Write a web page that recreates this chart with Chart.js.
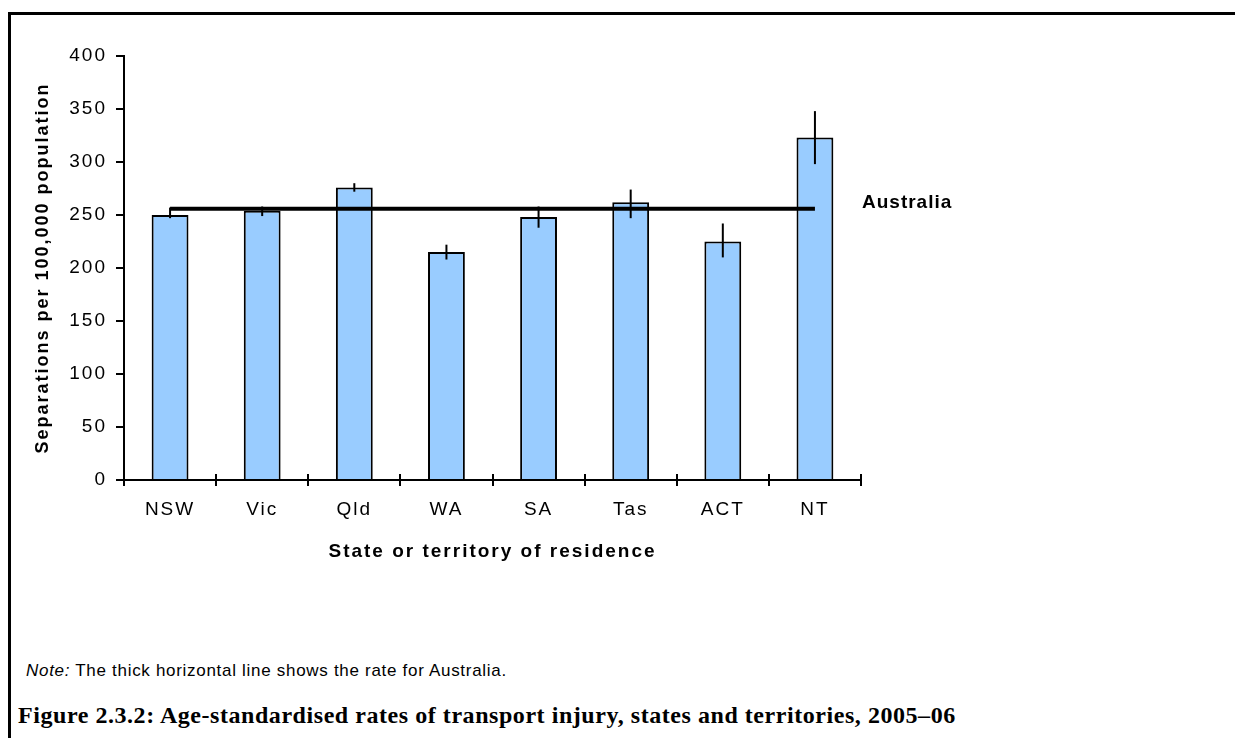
<html lang="en">
<head>
    <meta charset="UTF-8">
    <title>Transport injury rates</title>
    <script src="https://cdn.jsdelivr.net/npm/chart.js"></script>
    <style>
        body { margin: 0; background: #fff; width: 1235px; height: 738px; overflow: hidden; position: relative; }
        .frame { position: absolute; left: 8px; top: 12px; width: 1400px; height: 900px;
                 border-left: 3px solid #000; border-top: 3px solid #000; }
        #chart { position: absolute; left: 0; top: 0; }
        .note { position: absolute; left: 26px; top: 661px; font: 17px "Liberation Sans", Arial, sans-serif;
                letter-spacing: 0.7px; color: #000; }
        .caption { position: absolute; left: 18px; top: 702px; font: bold 24px "Liberation Serif", serif;
                   letter-spacing: 0.55px; color: #000; white-space: nowrap; }
    </style>
</head>
<body>
    <div class="frame"></div>
    <canvas id="chart" width="1235" height="600"></canvas>
    <div class="note"><i>Note:</i> The thick horizontal line shows the rate for Australia.</div>
    <div class="caption">Figure 2.3.2: Age-standardised rates of transport injury, states and territories, 2005–06</div>

    <script>
        // data
        const states = ['NSW', 'Vic', 'Qld', 'WA', 'SA', 'Tas', 'ACT', 'NT'];
        const rates = [250, 254, 276, 215, 248, 262, 225, 323];
        const lower = [247, 249, 272, 208, 238, 247, 210, 298];
        const upper = [257, 258, 280, 222, 258, 274, 242, 348];
        const australiaRate = 256;
        const yTicks = [0, 50, 100, 150, 200, 250, 300, 350, 400];

        const sans = '"Liberation Sans", Arial, sans-serif';

        // the source pdf text is loosely spaced, so space out the axis text a bit
        const spacing = {
            id: 'spacing',
            beforeDraw(chart) { chart.ctx.letterSpacing = '2px'; },
            beforeDatasetsDraw(chart) { chart.ctx.letterSpacing = '0px'; }
        };

        // vertical lines for the confidence intervals, plus the small tick stubs above the x axis
        const errorBars = {
            id: 'errorBars',
            afterDatasetsDraw(chart) {
                const ctx = chart.ctx;
                const x = chart.scales.x;
                const y = chart.scales.y;
                const bars = chart.getDatasetMeta(0).data;
                ctx.save();
                ctx.strokeStyle = '#000';
                ctx.lineWidth = 2;
                bars.forEach((bar, i) => {
                    ctx.beginPath();
                    ctx.moveTo(bar.x, y.getPixelForValue(lower[i]));
                    ctx.lineTo(bar.x, y.getPixelForValue(upper[i]));
                    ctx.stroke();
                });
                for (let i = 0; i <= states.length; i++) {
                    const px = Math.round(x.getPixelForValue(i - 0.5));
                    ctx.beginPath();
                    ctx.moveTo(px, x.top);
                    ctx.lineTo(px, x.top - 6);
                    ctx.stroke();
                }
                ctx.restore();
            }
        };

        // "Australia" label next to the line
        const lineLabel = {
            id: 'lineLabel',
            afterDatasetsDraw(chart) {
                const ctx = chart.ctx;
                const yPix = chart.scales.y.getPixelForValue(australiaRate);
                ctx.save();
                ctx.font = 'bold 19px ' + sans;
                ctx.letterSpacing = '1px';
                ctx.fillStyle = '#000';
                ctx.textBaseline = 'middle';
                ctx.fillText('Australia', chart.chartArea.right + 1, yPix - 6);
                ctx.restore();
            }
        };

        new Chart(document.getElementById('chart'), {
            type: 'bar',
            data: {
                labels: states,
                datasets: [{
                    label: 'Rate',
                    data: rates,
                    backgroundColor: '#99CCFF',
                    borderColor: '#000',
                    borderWidth: 2,
                    barPercentage: 0.4,
                    categoryPercentage: 1,
                    order: 1
                }, {
                    type: 'line',
                    label: 'Australia',
                    data: states.map(() => australiaRate),
                    borderColor: '#000',
                    borderWidth: 4,
                    pointRadius: 0,
                    order: 0
                }]
            },
            options: {
                responsive: false,
                animation: false,
                layout: { padding: { left: 20, right: 374, top: 56, bottom: 25 } },
                plugins: { legend: { display: false }, tooltip: { enabled: false } },
                scales: {
                    x: {
                        afterFit(scale) { scale.height = 95; },
                        grid: { offset: true, drawOnChartArea: false, color: '#000', lineWidth: 2, tickLength: 6 },
                        border: { color: '#000', width: 2 },
                        ticks: { color: '#000', font: { family: sans, size: 19 }, padding: 12 },
                        title: {
                            display: true, text: 'State or territory of residence', color: '#000',
                            font: { family: sans, size: 19, weight: 'bold' }, padding: { top: 0, bottom: 12 }
                        }
                    },
                    y: {
                        min: 0, max: 400,
                        afterFit(scale) { scale.width = 104; },
                        afterBuildTicks(scale) { scale.ticks = yTicks.map(v => ({ value: v })); },
                        grid: { drawOnChartArea: false, color: '#000', lineWidth: 2, tickLength: 8 },
                        border: { color: '#000', width: 2 },
                        ticks: { color: '#000', font: { family: sans, size: 19 }, padding: 9 },
                        title: {
                            display: true, text: 'Separations per 100,000 population', color: '#000',
                            font: { family: sans, size: 18, weight: 'bold' }, padding: { top: 12, bottom: 0 }
                        }
                    }
                }
            },
            plugins: [spacing, errorBars, lineLabel]
        });
    </script>
</body>
</html>
